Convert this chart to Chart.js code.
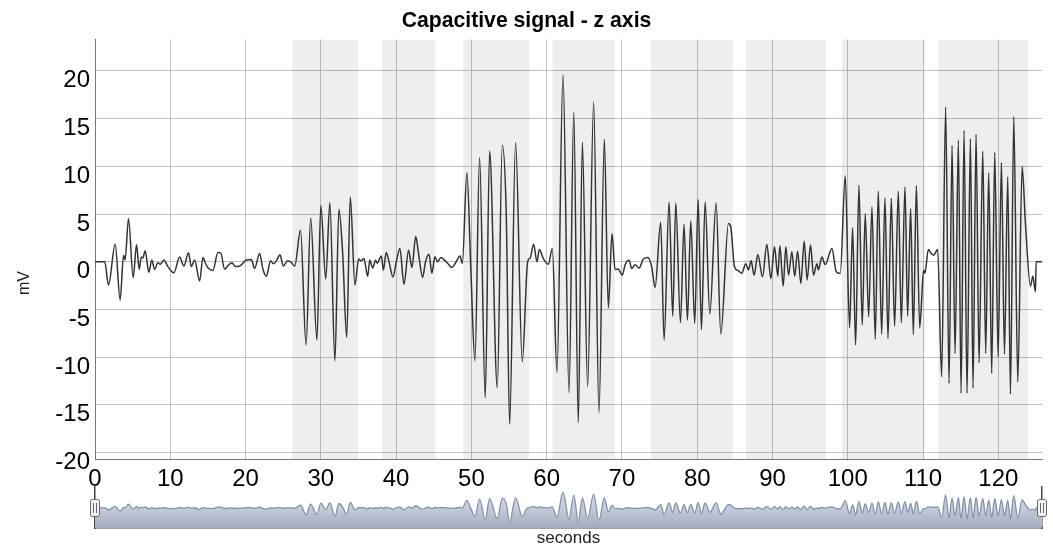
<!DOCTYPE html>
<html>
<head>
<meta charset="utf-8">
<title>Capacitive signal - z axis</title>
<script src="https://cdn.jsdelivr.net/npm/chart.js@4.4.1/dist/chart.umd.min.js"></script>
<style>
  html, body { margin: 0; padding: 0; background: #fff; }
  #wrap { position: relative; width: 1053px; height: 549px; }
  #signalChart { position: absolute; left: 0; top: 0; }
  #navChart { position: absolute; left: 0; top: 480px; }
</style>
</head>
<body>
<div id="wrap">
  <canvas id="signalChart" width="1053" height="549"></canvas>
  <canvas id="navChart" width="1053" height="69"></canvas>
</div>
<script>
// z-axis capacitive signal: time (s) / amplitude (mV)
const sigT = [
  0, 1.3, 1.79, 2.68, 3.34, 3.79, 4.0, 4.45, 5.07, 5.52, 5.87, 6.14, 6.35, 6.67, 7.15, 7.55, 7.91, 8.35, 8.66, 9.15,
  9.68, 10.48, 11.24, 11.8, 12.43, 12.78, 13.23, 13.9, 14.34, 14.7, 15.09, 15.67, 16.33, 16.7, 17.22, 17.66, 18.2, 18.55, 19.0, 19.4,
  20.1, 20.76, 21.2, 21.87, 22.3, 22.76, 23.33, 23.7, 24.1, 24.58, 25.0, 25.6, 26.07, 26.53,
  27.3, 28.04, 28.65, 29.48, 30.0, 30.65, 31.2, 31.87, 32.4, 32.9, 33.44, 33.91, 34.53,
  35.02, 35.35, 35.72, 36.23, 36.5, 36.9, 37.26, 37.5, 37.83, 38.05, 38.3, 38.69, 39.05, 39.58, 40.0, 40.5, 41.05, 41.65,
  42.1, 42.61, 42.95, 43.52, 43.9, 44.37, 44.75, 45.15, 45.5, 45.95, 46.4, 46.9, 47.4, 47.9, 48.5, 48.8,
  49.4, 49.93, 50.47, 51.09, 51.84, 52.42, 53.44, 54.1, 54.63, 55.08, 55.87, 56.76,
  57.47, 57.8, 58.27, 58.71, 59.02, 59.55, 60.22, 60.75,
  61.37, 62.17, 62.97, 63.6, 64.2, 64.74, 65.44, 66.24, 66.95, 67.66, 68.19, 68.68,
  69.08, 69.5, 70.05, 70.4, 70.94, 71.3, 71.75, 72.27, 72.85, 73.42, 73.95,
  74.4, 75.15, 75.6, 76.26, 76.75, 77.15, 77.77, 78.25, 78.7, 79.14, 79.67, 80.12, 80.56, 81.05, 81.67, 82.51, 83.13, 84.15, 84.45,
  84.95, 85.4, 85.92, 86.45, 86.8, 87.16, 87.56, 88.05, 88.67, 89.25, 89.78, 90.27, 90.7, 90.98, 91.42, 91.77, 92.13, 92.57,
  92.95, 93.33, 93.77, 94.21, 94.6, 95.05, 95.45, 95.9, 96.1, 96.56, 97.0, 97.89, 98.47, 99.0,
  99.66, 100.24, 100.64, 101.04, 101.48, 101.92, 102.32, 102.77, 103.21, 103.65, 104.05, 104.5, 104.94, 105.34, 105.78,
  106.22, 106.71, 107.11, 107.6, 107.95, 108.35, 108.71, 109.11, 109.55,
  110.08, 110.25, 110.7, 111.05, 111.4, 111.94,
  112.47, 113.0, 113.45, 113.85, 114.25, 114.69, 115.05, 115.45, 115.84, 116.29, 116.64, 117.04, 117.44, 117.93, 118.32,
  118.72, 119.12, 119.52, 119.97, 120.41, 120.81, 121.25, 121.61, 122.05, 122.58, 123.16, 123.6,
  124.27, 124.58, 124.93, 125.02, 125.8
];
const sigV = [
  0, 0, -2.44, 1.85, -4.0, 0.7, 0.2, 4.54, -1.64, 1.78, -0.8, 0.5, 0.4, 1.15, -1.1, 0.2, -0.8, -0.1, -0.25, 0.2,
  -0.5, -1.15, 0.5, -0.45, 0.94, -0.5, 0.2, -2.0, 0.45, -0.2, -0.7, -0.9, 0.98, 0.94, -0.77, -0.4, -0.1, -0.45, -0.5, -0.35,
  0.2, 0.25, -0.7, 0.88, -0.75, -1.5, 0.1, -0.2, 0.1, 0.73, -0.45, 0.1, -0.05, -0.45,
  3.3, -8.72, 4.58, -8.2, 5.87, -1.8, 6.18, -10.38, 5.5, 0.9, -7.92, 6.8, -2.44,
  0.3, 0.1, 0.35, -1.5, 0.2, -0.65, 0.17, -0.15, 0.35, 0.6, -0.87, 0.97, 0.05, -1.6, -0.1, 1.4, -2.35, 1.2,
  -0.6, 2.65, 1.05, -1.62, 0.0, 0.8, -1.2, 0.52, 0.0, 0.45, 0.2, -0.2, -0.6, -0.1, 0.6, -0.17,
  9.35, -0.87, -10.37, 10.92, -14.24, 11.62, -13.2, 12.22, 5.06, -17.03, 12.5, -10.47,
  0.0, 0.4, 1.85, 0.0, 1.29, 0.35, -0.25, 1.4,
  -11.62, 19.6, -13.72, 15.7, -16.86, 12.53, -13.09, 16.75, -15.81, 12.84, -4.82, 2.97,
  -0.8, -0.75, -1.4, -0.35, 0.17, -0.7, -0.3, -0.66, 0.3, 0.45, -0.52,
  -2.69, 4.15, -8.2, 6.28, -5.69, 6.18, -6.39, 3.94, -6.11, 4.29, -6.46, 6.53, -7.09, 6.28, -5.48, 6.18, -7.57, 4.01, 3.7,
  -0.52, -0.9, -1.2, -0.2, -0.85, 0.1, -1.4, 0.77, -1.57, 1.81, -1.75, 1.57, -1.5, 1.68, -2.55, 1.57, -1.4, 1.05,
  -1.5, 1.12, -2.27, 2.16, -1.9, 1.75, -1.4, -0.2, -0.85, 0.5, -0.3, 1.4, -1.05, -1.22,
  9.01, -6.91, 3.6, -8.72, 8.03, -6.63, 5.06, -5.76, 5.76, -8.1, 7.4, -7.57, 6.7, -8.03, 6.63,
  -6.73, 7.4, -6.39, 7.85, -5.69, 5.59, -7.61, 7.96, -6.91,
  -0.87, -1.2, 1.29, 0.9, 0.7, 1.29,
  -12.04, 16.23, -12.74, 12.2, -9.6, 12.74, -13.78, 13.79, -13.78, 12.9, -13.26, 13.37, -10.57, 11.59, -9.6,
  9.32, -11.69, 11.45, -9.95, 10.4, -9.67, 8.9, -13.85, 15.19, -12.56, 10.0, 4.0,
  -2.55, -1.5, -3.14, 0, 0
];

// shaded intervals (s)
const bandStart = [26.2, 38.1, 48.9, 60.75, 73.8, 86.45, 99.2, 112.0];
const bandEnd   = [35.0, 45.25, 57.65, 69.1, 84.75, 97.1, 110.2, 124.0];

const xTicks = [0, 10, 20, 30, 40, 50, 60, 70, 80, 90, 100, 110, 120];
const yTicks = [-20, -15, -10, -5, 0, 5, 10, 15, 20];
const xRange = [0, 125.8];
const yRange = [-20.66, 23.3];
const navYRange = [-25, 26];
const navHandleX = [0, 125.8];

const FONT = '"Liberation Sans", Arial, sans-serif';

const signalPoints = sigT.map((t, i) => ({ x: t, y: sigV[i] }));

// grey background intervals, filled from the top of the plot down
const bandSets = bandStart.map((s, i) => ({
  data: [{ x: s, y: yRange[1] }, { x: bandEnd[i], y: yRange[1] }],
  fill: 'start',
  backgroundColor: 'rgba(0,0,0,0.065)',
  borderColor: 'transparent',
  borderWidth: 0,
  pointRadius: 0,
  order: 2
}));

// rotated "mV" label, centred on plot + navigator
const yTitle = {
  id: 'yTitle',
  afterDraw(chart) {
    const c = chart.ctx;
    c.save();
    c.translate(25, 283);
    c.rotate(-Math.PI / 2);
    c.font = '16px ' + FONT;
    c.fillStyle = '#222';
    c.textAlign = 'center';
    c.textBaseline = 'middle';
    c.fillText('mV', 0, 0);
    c.restore();
  }
};

// empty axis used only as a right margin, so the title stays centred on the canvas
const spacer = {
  position: 'right',
  min: 0,
  max: 1,
  ticks: { display: false },
  grid: { display: false },
  border: { display: false },
  afterFit: s => { s.width = 11; }
};

new Chart(document.getElementById('signalChart'), {
  type: 'line',
  data: {
    datasets: [
      {
        data: signalPoints,
        borderColor: '#333',
        borderWidth: 1.5,
        pointRadius: 0,
        fill: false,
        cubicInterpolationMode: 'monotone',
        order: 1
      },
      ...bandSets
    ]
  },
  options: {
    responsive: false,
    animation: false,
    layout: { padding: { left: 0, right: 0, top: 0, bottom: 60 } },
    plugins: {
      legend: { display: false },
      tooltip: { enabled: false },
      title: {
        display: true,
        text: 'Capacitive signal - z axis',
        color: '#000',
        font: { family: FONT, size: 21.2, weight: 'bold' },
        padding: { top: 8, bottom: 6 }
      }
    },
    scales: {
      x: {
        type: 'linear',
        min: xRange[0],
        max: xRange[1],
        afterBuildTicks: s => { s.ticks = xTicks.map(v => ({ value: v })); },
        afterFit: s => { s.height = 30; },
        grid: { color: '#c2c2c2', lineWidth: 1, drawTicks: false },
        border: { color: '#777', width: 1 },
        ticks: {
          color: '#000',
          font: { family: FONT, size: 24 },
          padding: 6,
          maxRotation: 0,
          autoSkip: false,
          callback: v => String(v)
        }
      },
      y: {
        min: yRange[0],
        max: yRange[1],
        afterBuildTicks: s => { s.ticks = yTicks.map(v => ({ value: v })); },
        afterFit: s => { s.width = 95; },
        grid: { color: '#c2c2c2', lineWidth: 1, drawTicks: false },
        border: { color: '#777', width: 1 },
        ticks: {
          color: '#000',
          // two-line label with an empty first line: value sits a little below its grid line
          font: { family: FONT, size: 24, lineHeight: 0.82 },
          padding: 5,
          callback: v => ['', String(v)]
        }
      },
      margin: spacer
    }
  },
  plugins: [yTitle]
});

// navigator handle glyph
const handleImg = document.createElement('canvas');
handleImg.width = 10;
handleImg.height = 18;
(function () {
  const h = handleImg.getContext('2d');
  h.fillStyle = '#f4f4f4';
  h.strokeStyle = '#666';
  h.lineWidth = 1;
  h.beginPath();
  h.roundRect(0.5, 0.5, 9, 17, 2);
  h.fill();
  h.stroke();
  h.beginPath();
  h.moveTo(3.5, 4); h.lineTo(3.5, 14);
  h.moveTo(6.5, 4); h.lineTo(6.5, 14);
  h.stroke();
})();

new Chart(document.getElementById('navChart'), {
  type: 'line',
  data: {
    datasets: [
      {
        data: navHandleX.map(x => ({ x, y: 0 })),
        showLine: false,
        pointStyle: handleImg,
        pointRadius: 5,
        clip: false,
        order: 0
      },
      {
        data: signalPoints,
        borderColor: '#8490ab',
        borderWidth: 1.3,
        pointRadius: 0,
        cubicInterpolationMode: 'monotone',
        fill: 'start',
        backgroundColor: ctx => {
          const area = ctx.chart.chartArea;
          if (!area) return 'rgba(180,188,206,1)';
          const g = ctx.chart.ctx.createLinearGradient(0, area.top, 0, area.bottom);
          g.addColorStop(0, '#d6dbe6');
          g.addColorStop(0.5, '#c6cddb');
          g.addColorStop(1, '#a2abbf');
          return g;
        },
        order: 1
      }
    ]
  },
  options: {
    responsive: false,
    animation: false,
    layout: { padding: { left: 0, right: 0, top: 7, bottom: 0 } },
    plugins: { legend: { display: false }, tooltip: { enabled: false } },
    scales: {
      x: {
        type: 'linear',
        min: xRange[0],
        max: xRange[1],
        ticks: { display: false },
        grid: { display: false },
        border: { color: '#444', width: 1.5 },
        afterFit: s => { s.height = 21; },
        title: {
          display: true,
          text: 'seconds',
          color: '#222',
          font: { family: FONT, size: 17 },
          padding: 0
        }
      },
      y: {
        min: navYRange[0],
        max: navYRange[1],
        ticks: { display: false },
        grid: { display: false },
        border: { color: '#444', width: 1.5 },
        afterFit: s => { s.width = 95; }
      },
      yRight: {
        position: 'right',
        min: navYRange[0],
        max: navYRange[1],
        ticks: { display: false },
        grid: { display: false },
        border: { color: '#444', width: 1.5 },
        afterFit: s => { s.width = 11; }
      }
    }
  }
});
</script>
</body>
</html>
